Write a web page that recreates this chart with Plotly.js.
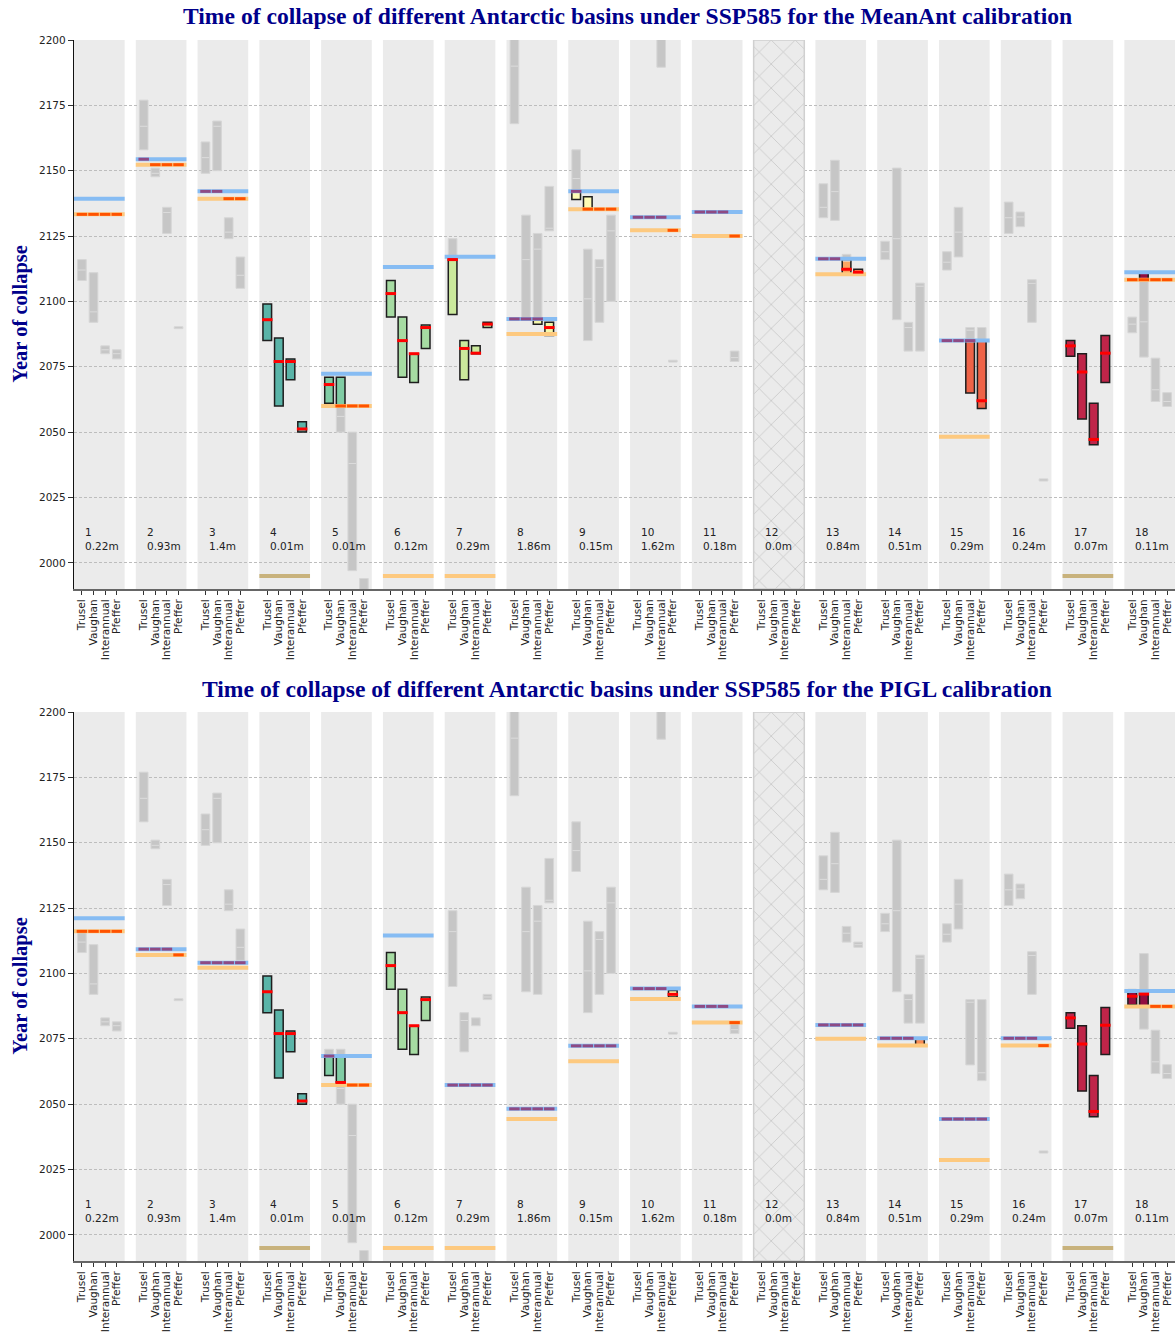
<!DOCTYPE html>
<html><head><meta charset="utf-8">
<script src="https://cdn.plot.ly/plotly-3.0.1.min.js"></script>
<style>body{margin:0;background:#fff}#chart{width:1175px;height:1332px}</style>
</head><body><div id="chart"></div>
<script>
// ---------------- DATA ----------------
const basins = [1,2,3,4,5,6,7,8,9,10,11,12,13,14,15,16,17,18];
const seaLevel = ['0.22m','0.93m','1.4m','0.01m','0.01m','0.12m','0.29m','1.86m','0.15m','1.62m','0.18m','0.0m','0.84m','0.51m','0.29m','0.24m','0.07m','0.11m'];
const methods = ['Trusel','Vaughan','Interannual','Pfeffer'];
const hatchedBasins = [12];
const tanBasins = [4,17];
const panelTitles = [
  'Time of collapse of different Antarctic basins under SSP585 for the MeanAnt calibration',
  'Time of collapse of different Antarctic basins under SSP585 for the PIGL calibration'
];

// grey ranges shared by both panels: [basin, method index, low, high, median]
const greyRanges = [
  [1,0,2108,2116,2112],[1,1,2092,2111,2096],[1,2,2080,2083,2081.5],[1,3,2078,2081.5,2080],
  [2,0,2158,2177,2167],[2,1,2147.7,2151,2149],[2,2,2126,2136,2134],[2,3,2089.6,2090.3,null],
  [3,0,2149,2161,2155],[3,1,2150,2169,2167],[3,2,2124,2132,2126.5],[3,3,2105,2117,2110],
  [5,0,2061,2071,null],[5,1,2050,2071,2056],[5,2,1997,2050,2038],[5,3,1980,1994,null],
  [7,0,2095,2124,2116],[7,1,2070,2085,2082],[7,2,2080,2083,null],[7,3,2090,2092,2091],
  [8,0,2168,2215,2190],[8,1,2093,2133,2116],[8,2,2092,2126,2120],[8,3,2127,2144,2128],
  [9,0,2139,2158,2147],[9,1,2085,2120,2101],[9,2,2092,2116,2113],[9,3,2100,2133,2127],
  [10,2,2189.6,2215,null],[10,3,2076.8,2077.5,null],
  [11,3,2077,2081,2078.5],
  [13,0,2132,2145,2136],[13,1,2131,2154,2142],[13,2,2112,2118,2115.4],[13,3,2110,2112,2111],
  [14,0,2116,2123,2119],[14,1,2093,2151,2124],[14,2,2081,2092,2090],[14,3,2081,2107,2105.8],
  [15,0,2112,2119,2115],[15,1,2117,2136,2126.5],[15,2,2065,2090,2089],[15,3,2059,2090,2062],
  [16,0,2126,2138,2132],[16,1,2128.6,2134.2,2132.3],[16,2,2092,2108.3,2106.9],[16,3,2031.3,2032.1,null],
  [18,0,2088,2094,2091.3],[18,1,2078.7,2107.6,2092.2],[18,2,2061.7,2078.3,2066.2],[18,3,2059.8,2065.1,2061.7]
];

// coloured ranges: [basin, method index, low, high, median]
const meanAntBoxes = [
  [4,0,2085,2099,2093],[4,1,2060,2086,2077],[4,2,2070,2078,2077],[4,3,2050,2054,2051.2],
  [5,0,2061,2071,2068.2],[5,1,2060,2071,null],
  [6,0,2094,2108,2103],[6,1,2071,2094,2085],[6,2,2069,2080,2080],[6,3,2082,2091,2090],
  [7,0,2095,2116.5,2116],[7,1,2070,2085,2082],[7,2,2080,2083,2080.2],[7,3,2090,2092,2091.3],
  [8,2,2091.3,2093.3,null],[8,3,2087,2092,2090],
  [9,0,2139,2142,null],[9,1,2135,2140,null],
  [13,2,2110,2116,2112.3],[13,3,2110,2112.3,2111.2],
  [15,2,2065,2085,null],[15,3,2059,2085,2062],
  [17,0,2079,2085,2083],[17,1,2055,2080,2073],[17,2,2045.2,2061,2047.2],[17,3,2069,2087,2080.2],
  [18,1,2108.2,2111.2,null]
];
const piglBoxes = [
  [4,0,2085,2099,2093],[4,1,2060,2086,2077],[4,2,2070,2078,2077],[4,3,2050,2054,2051.2],
  [5,0,2061,2068.4,null],[5,1,2057.3,2068.2,2058.3],
  [6,0,2094,2108,2103],[6,1,2071,2094,2085],[6,2,2069,2080,2080],[6,3,2082,2091,2090],
  [10,3,2091,2093.5,2092],
  [14,3,2072.3,2074.8,null],
  [17,0,2079,2085,2083],[17,1,2055,2080,2073],[17,2,2045.2,2061,2047.2],[17,3,2069,2087,2080.2],
  [18,0,2088,2093.6,2091.3],[18,1,2087.4,2093.6,2092.1]
];

// per-basin reference years (blue and orange lines)
const meanAntBlue   = [2139.3,2154.4,2142.1,null,2072.3,2113.2,2117.1,2093.3,2142.1,2132.2,2134.2,null,2116.3,null,2085,null,null,2111.2];
const meanAntOrange = [2133.3,2152.3,2139.3,1995,2060,1995,1995,2087.5,2135.3,2127.2,2125,null,2110.4,null,2048.2,null,1995,2108.3];
const piglBlue      = [2121.1,2109.3,2104.1,null,2068.4,2114.5,2057.3,2048.2,2072.3,2094.2,2087.4,null,2080.3,2075.2,2044.3,2075.2,null,2093.3];
const piglOrange    = [2116.1,2107.1,2102.2,1995,2057.3,1995,1995,2044.3,2066.4,2090.2,2081.2,null,2075,2072.4,2028.6,2072.4,1995,2087.4];

// per-method markers: b = at blue year (purple), o = at orange year (red-orange), . = none
const meanAntMarks = ['oooo','booo','bboo','....','.ooo','....','....','bbb.','booo','bbbo','bbbo','....','bb..','....','bbb.','....','....','oooo'];
const piglMarks    = ['oooo','bbbo','bbbb','....','b.oo','....','bbbb','bbbb','bbbb','bbb.','bbbo','....','bbbb','bbb.','bbbb','bbbo','....','..oo'];

const basinColors = [null,null,null,'#5AB4A8','#80CCA4','#A6DBA2','#CBE99C','#F3F7AA','#FEFCB5','#FFEFA3',null,null,'#FBA562','#F88B52','#EE6347',null,'#BF2549','#920D40'];

// ---------------- BUILD ----------------
const colOffsets = [-0.282,-0.094,0.094,0.282];
const bandHalf = 0.41, boxW = 0.14, segHalf = 0.085;
const xRange = [0.59, 18.41];

function segTrace(list, color, width, xa, ya){
  const x=[], y=[];
  list.forEach(([xc,hw,yy])=>{ x.push(xc-hw, xc+hw, null); y.push(yy, yy, null); });
  return {type:'scatter', mode:'lines', x, y, xaxis:xa, yaxis:ya, line:{color, width}, hoverinfo:'skip', showlegend:false};
}

function panel(xa, ya, boxes, blue, orange, marks){
  const tr = [];
  // hatched basin band
  tr.push({type:'bar', x:hatchedBasins, y:hatchedBasins.map(()=>210), base:hatchedBasins.map(()=>1990),
    width:hatchedBasins.map(()=>2*bandHalf), xaxis:xa, yaxis:ya, hoverinfo:'skip', showlegend:false,
    marker:{color:'#EBEBEB', line:{color:'#D0D0D0', width:1.5},
      pattern:{shape:'x', bgcolor:'#EBEBEB', fgcolor:'#C2C2C2', fgopacity:1, size:17, solidity:0.08}}});
  // grey ranges
  tr.push({type:'bar', x:greyRanges.map(r=>r[0]+colOffsets[r[1]]), y:greyRanges.map(r=>r[3]-r[2]),
    base:greyRanges.map(r=>r[2]), width:greyRanges.map(()=>boxW), xaxis:xa, yaxis:ya, hoverinfo:'skip', showlegend:false,
    marker:{color:'#C6C6C6', line:{color:'#D6D6D6', width:1}}});
  tr.push(segTrace(greyRanges.filter(r=>r[4]!==null).map(r=>[r[0]+colOffsets[r[1]], boxW/2-0.01, r[4]]), '#DCDCDC', 1, xa, ya));
  // orange lines
  const oNorm=[], oTan=[];
  basins.forEach((b,i)=>{ if(orange[i]!==null){ (tanBasins.includes(b)?oTan:oNorm).push([b,bandHalf,orange[i]]); } });
  tr.push(segTrace(oNorm, '#FDC97F', 4, xa, ya));
  tr.push(segTrace(oTan, '#C8B27C', 4, xa, ya));
  // blue lines
  tr.push(segTrace(basins.filter((b,i)=>blue[i]!==null).map(b=>[b,bandHalf,blue[b-1]]), '#86BCF3', 4, xa, ya));
  // coloured ranges
  tr.push({type:'bar', x:boxes.map(r=>r[0]+colOffsets[r[1]]), y:boxes.map(r=>r[3]-r[2]),
    base:boxes.map(r=>r[2]), width:boxes.map(()=>boxW), xaxis:xa, yaxis:ya, hoverinfo:'skip', showlegend:false,
    marker:{color:boxes.map(r=>basinColors[r[0]-1]), line:{color:'#1E1E1E', width:1.5}}});
  // markers
  const purple=[], redor=[];
  basins.forEach((b,i)=>{ marks[i].split('').forEach((c,m)=>{
    if(c==='b') purple.push([b+colOffsets[m], segHalf, blue[i]]);
    if(c==='o') redor.push([b+colOffsets[m], segHalf, orange[i]]);
  });});
  tr.push(segTrace(purple, '#8E4A84', 3, xa, ya));
  tr.push(segTrace(redor, '#FF5200', 3, xa, ya));
  // medians
  tr.push(segTrace(boxes.filter(r=>r[4]!==null).map(r=>[r[0]+colOffsets[r[1]], segHalf, r[4]]), '#FF0000', 3, xa, ya));
  return tr;
}

const traces = [
  ...panel('x','y', meanAntBoxes, meanAntBlue, meanAntOrange, meanAntMarks),
  ...panel('x2','y2', piglBoxes, piglBlue, piglOrange, piglMarks)
];

const tickvals=[], ticktext=[];
basins.forEach(b=>methods.forEach((m,k)=>{ tickvals.push(b+colOffsets[k]); ticktext.push(m); }));

const shapes=[];
[['x','y'],['x2','y2']].forEach(([xa,ya])=>{
  basins.filter(b=>!hatchedBasins.includes(b)).forEach(b=>{
    shapes.push({type:'rect', xref:xa, yref:ya+' domain', x0:b-bandHalf, x1:b+bandHalf, y0:0, y1:1,
      fillcolor:'#EBEBEB', line:{width:0}, layer:'below'});
  });
});

const annotations=[];
[['x','y'],['x2','y2']].forEach(([xa,ya])=>{
  basins.forEach((b,i)=>annotations.push({xref:xa, yref:ya, x:b-0.265, y:2009.2, xanchor:'left', yanchor:'middle',
    align:'left', showarrow:false, text:b+'<br>'+seaLevel[i], font:{family:'DejaVu Sans', size:10.5, color:'#222'}}));
});
const titleFont = {family:'Liberation Serif', size:23.6, color:'#00008B'};
annotations.push({xref:'paper', yref:'paper', x:0.5023, y:1.0197, xanchor:'center', yanchor:'middle', showarrow:false,
  text:'<b>'+panelTitles[0]+'</b>', font:titleFont});
annotations.push({xref:'paper', yref:'paper', x:0.5023, y:0.4685, xanchor:'center', yanchor:'middle', showarrow:false,
  text:'<b>'+panelTitles[1]+'</b>', font:titleFont});
const yTitleFont = {family:'Liberation Serif', size:20.5, color:'#00008B'};
annotations.push({xref:'paper', yref:'paper', x:-0.049, y:0.7752, xanchor:'center', yanchor:'middle', showarrow:false,
  textangle:-90, text:'<b>Year of collapse</b>', font:yTitleFont});
annotations.push({xref:'paper', yref:'paper', x:-0.049, y:0.2248, xanchor:'center', yanchor:'middle', showarrow:false,
  textangle:-90, text:'<b>Year of collapse</b>', font:yTitleFont});

const xaxisBase = {range:xRange, tickvals, ticktext, tickangle:-90, ticks:'outside', ticklen:4, tickcolor:'#333',
  showline:true, linecolor:'#666', linewidth:2, showgrid:false, zeroline:false, automargin:false,
  ticklabeloverflow:'allow', tickfont:{family:'DejaVu Sans', size:10.6, color:'#222'}};
const yaxisBase = {range:[1990,2200], tickvals:[2000,2025,2050,2075,2100,2125,2150,2175,2200], ticks:'outside', ticklen:5,
  tickcolor:'#333', showline:true, linecolor:'#111', linewidth:1.2, showgrid:true, gridcolor:'#BDBDBD', griddash:'3px,2px',
  gridwidth:1, zeroline:false, automargin:false, tickfont:{family:'DejaVu Sans', size:10.5, color:'#222'}};

const layout = {
  width:1175, height:1332, margin:{l:74, r:0, t:40, b:71}, paper_bgcolor:'#fff', plot_bgcolor:'#fff',
  barmode:'overlay', showlegend:false,
  xaxis:Object.assign({}, xaxisBase, {anchor:'y'}),
  xaxis2:Object.assign({}, xaxisBase, {anchor:'y2'}),
  yaxis:Object.assign({}, yaxisBase, {domain:[0.5504,1], anchor:'x'}),
  yaxis2:Object.assign({}, yaxisBase, {domain:[0,0.4496], anchor:'x2'}),
  shapes, annotations
};

Plotly.newPlot('chart', traces, layout, {staticPlot:true});
</script></body></html>
